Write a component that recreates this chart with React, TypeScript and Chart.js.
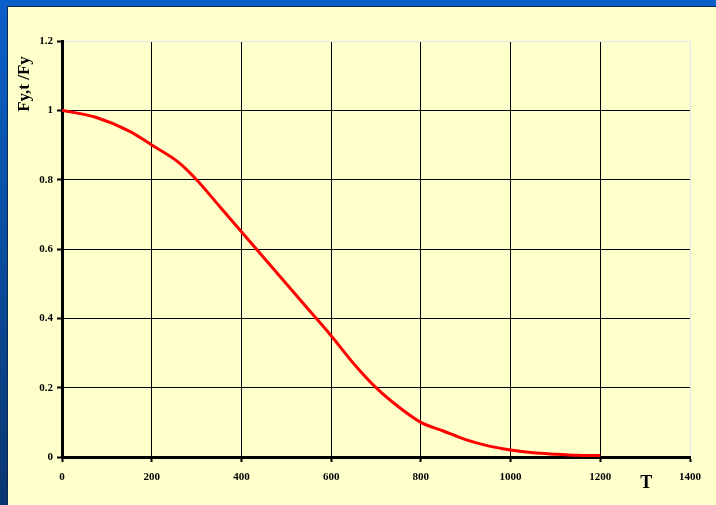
import React, { useEffect, useRef } from "react";
import { Chart, registerables } from "chart.js";

Chart.register(...registerables);

const temperatures = [0, 75, 150, 200, 260, 300, 350, 400, 450, 500, 550, 600, 650, 700, 750, 800, 850, 900, 950, 1000, 1050, 1100, 1150, 1200];
const ratios = [1.0, 0.98, 0.94, 0.9, 0.85, 0.8, 0.725, 0.65, 0.575, 0.5, 0.425, 0.35, 0.27, 0.2, 0.145, 0.1, 0.075, 0.05, 0.032, 0.02, 0.012, 0.008, 0.005, 0.004];
const xTicks = [0, 200, 400, 600, 800, 1000, 1200, 1400];
const yTicks = ["0", "0.2", "0.4", "0.6", "0.8", "1", "1.2"];
const yTitle = "Fy,t /Fy";
const xTitle = "T";

const FONT = "'Liberation Serif', 'Times New Roman', serif";

const titlesPlugin = {
  id: "customTitles",
  afterDraw(chart: any) {
    const ctx = chart.ctx;
    const xs = chart.scales.x;
    ctx.save();
    ctx.fillStyle = "#000";
    ctx.font = `bold 17px ${FONT}`;
    ctx.textAlign = "center";
    ctx.textBaseline = "middle";
    ctx.translate(17, 77);
    ctx.rotate(-Math.PI / 2);
    ctx.fillText(yTitle, 0, 0);
    ctx.restore();

    ctx.save();
    ctx.fillStyle = "#000";
    ctx.font = `bold 18px ${FONT}`;
    ctx.textAlign = "center";
    ctx.textBaseline = "middle";
    ctx.fillText(xTitle, xs.getPixelForValue(1300) + 1, chart.chartArea.bottom + 26);
    ctx.restore();
  },
};

export default function App() {
  const ref = useRef<HTMLCanvasElement | null>(null);

  useEffect(() => {
    document.body.style.margin = "0";
    document.body.style.background = "linear-gradient(to bottom, #0b5fc9 0%, #0a4d9e 50%, #0a3670 100%)";
    document.body.style.width = "716px";
    document.body.style.height = "505px";
    document.body.style.overflow = "hidden";
    if (!ref.current) return;
    const chart = new Chart(ref.current, {
      type: "line",
      data: {
        datasets: [
          {
            data: temperatures.map((t, i) => ({ x: t, y: ratios[i] })),
            borderColor: "#ff0000",
            borderWidth: 3,
            pointRadius: 0,
            cubicInterpolationMode: "monotone",
            fill: false,
          },
        ],
      },
      options: {
        responsive: false,
        animation: false,
        layout: { padding: { left: 0, top: 34, right: 26, bottom: 0 } },
        plugins: { legend: { display: false }, tooltip: { enabled: false } },
        scales: {
          x: {
            type: "linear",
            min: 0,
            max: 1400,
            afterFit: (s: any) => {
              s.height = 48;
            },
            afterBuildTicks: (s: any) => {
              s.ticks = xTicks.map((v) => ({ value: v }));
            },
            ticks: {
              color: "#000",
              font: { family: FONT, size: 11, weight: "bold" },
              padding: 9,
              maxRotation: 0,
              autoSkip: false,
              callback: (v: any) => String(v),
            },
            grid: {
              color: (c: any) => (c.tick && c.tick.value === 1400 ? "#e4e4ec" : "#000"),
              lineWidth: 1,
              tickLength: 5,
              tickWidth: 2,
              tickColor: "#000",
            },
            border: { display: true, color: "#000", width: 3 },
          },
          y: {
            type: "linear",
            min: 0,
            max: 1.2,
            afterFit: (s: any) => {
              s.width = 54;
            },
            afterBuildTicks: (s: any) => {
              s.ticks = yTicks.map((v) => ({ value: Number(v) }));
            },
            ticks: {
              color: "#000",
              font: { family: FONT, size: 11, weight: "bold" },
              padding: 4,
              autoSkip: false,
              callback: (v: any, i: number) => yTicks[i],
            },
            grid: {
              color: (c: any) => (c.tick && Math.abs(c.tick.value - 1.2) < 1e-6 ? "#e4e4ec" : "#000"),
              lineWidth: 1,
              tickLength: 5,
              tickWidth: 2,
              tickColor: "#000",
            },
            border: { display: true, color: "#000", width: 3 },
          },
        },
      },
      plugins: [titlesPlugin],
    } as any);
    return () => chart.destroy();
  }, []);

  return (
    <div
      style={{
        position: "absolute",
        left: 7,
        top: 6,
        width: 708,
        height: 498,
        background: "#ffffcc",
        borderLeft: "1px solid #0c2750",
        borderTop: "1px solid #0c2750",
      }}
    >
      <canvas ref={ref} width={708} height={498} style={{ display: "block" }} />
    </div>
  );
}
